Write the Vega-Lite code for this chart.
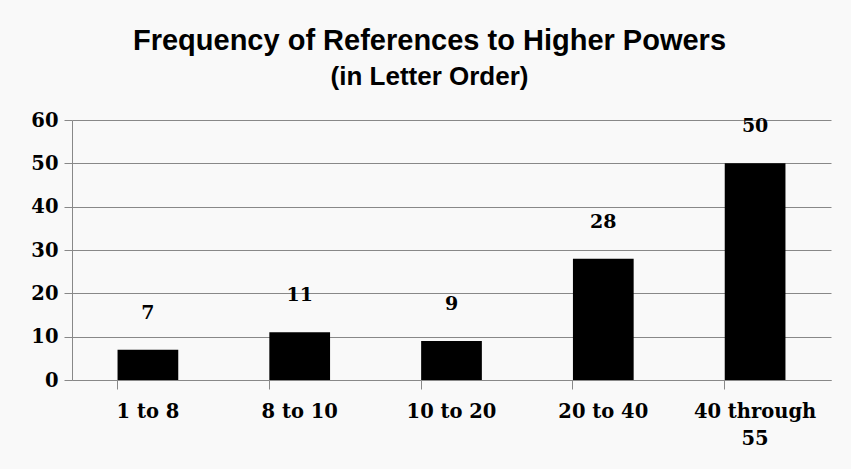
{
  "$schema": "https://vega.github.io/schema/vega-lite/v6.json",
  "width": 759,
  "height": 260,
  "autosize": {"type": "none"},
  "padding": {"left": 72, "top": 120, "right": 20, "bottom": 89},
  "background": "#f9f9f9",
  "title": {
    "text": "Frequency of References to Higher Powers",
    "subtitle": "(in Letter Order)",
    "anchor": "middle",
    "frame": "group",
    "dx": -22,
    "offset": 20,
    "font": "Liberation Sans",
    "fontSize": 29,
    "fontWeight": "bold",
    "color": "#000000",
    "subtitleFont": "Liberation Sans",
    "subtitleFontSize": 26,
    "subtitleFontWeight": "bold",
    "subtitleColor": "#000000",
    "subtitlePadding": 8
  },
  "data": {
    "values": [
      {"range": "1 to 8", "count": 7},
      {"range": "8 to 10", "count": 11},
      {"range": "10 to 20", "count": 9},
      {"range": "20 to 40", "count": 28},
      {"range": "40 through 55", "count": 50}
    ]
  },
  "encoding": {
    "x": {
      "field": "range",
      "type": "nominal",
      "sort": null,
      "scale": {"paddingInner": 0.6, "paddingOuter": 0.3},
      "axis": {
        "title": null,
        "labelAngle": 0,
        "labelFont": "DejaVu Serif",
        "labelFontSize": 19.5,
        "labelFontWeight": "bold",
        "labelColor": "#000000",
        "labelPadding": 13,
        "labelLineHeight": 27,
        "labelExpr": "datum.label == '40 through 55' ? ['40 through', '55'] : datum.label",
        "bandPosition": 0,
        "tickSize": 9,
        "tickColor": "#888888",
        "domainColor": "#888888",
        "grid": false
      }
    },
    "y": {
      "field": "count",
      "type": "quantitative",
      "scale": {"domain": [0, 60], "nice": false},
      "axis": {
        "title": null,
        "values": [0, 10, 20, 30, 40, 50, 60],
        "labelFont": "DejaVu Serif",
        "labelFontSize": 19.5,
        "labelFontWeight": "bold",
        "labelColor": "#000000",
        "labelPadding": 6,
        "tickSize": 8,
        "tickColor": "#888888",
        "domainColor": "#888888",
        "grid": true,
        "gridColor": "#888888"
      }
    }
  },
  "layer": [
    {"mark": {"type": "bar", "color": "#000000"}},
    {
      "mark": {
        "type": "text",
        "baseline": "alphabetic",
        "dy": -31,
        "font": "DejaVu Serif",
        "fontSize": 19,
        "fontWeight": "bold",
        "color": "#000000"
      },
      "encoding": {"text": {"field": "count", "type": "quantitative"}}
    }
  ],
  "config": {"view": {"stroke": null}}
}
